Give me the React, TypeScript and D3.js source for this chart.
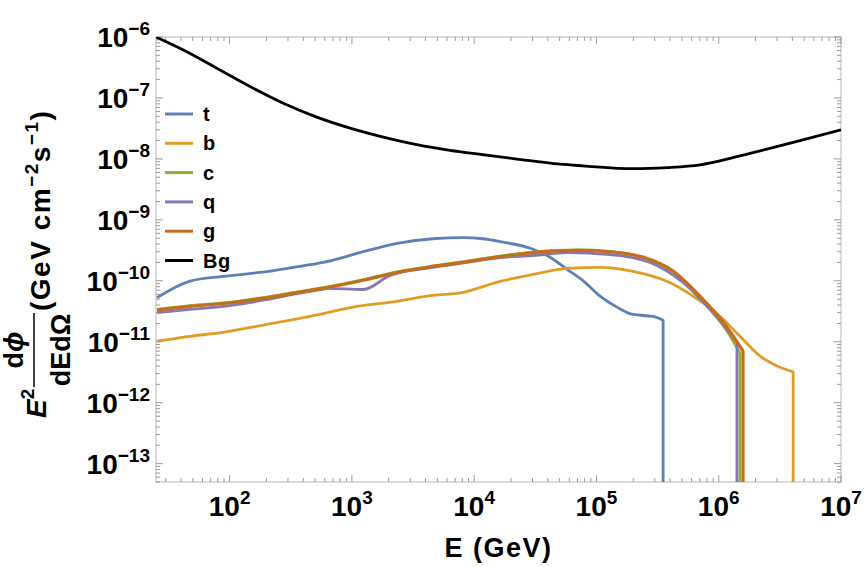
import React from "react";
import * as d3 from "d3";

const W = 865;
const H = 567;
const FONT = "'Liberation Sans', Arial, sans-serif";

// energies (GeV) and E^2 dphi/dE dOmega
const tE = [25.5, 47.5, 88.5, 177, 330, 580, 1240, 2340, 4610, 8110, 11800, 16300, 30300, 43000, 57500, 78000, 107000, 147000, 199000, 290000, 351000];
const tFlux = [5.3e-11, 9.9e-11, 1.18e-10, 1.37e-10, 1.66e-10, 2.0e-10, 3.0e-10, 4.1e-10, 4.9e-10, 5.1e-10, 4.9e-10, 4.4e-10, 3.3e-10, 2.35e-10, 1.54e-10, 1.0e-10, 5.6e-11, 3.7e-11, 2.8e-11, 2.6e-11, 2.25e-11];

const bE = [25.5, 47.5, 88.5, 203, 455, 1100, 2340, 4120, 8110, 16300, 30300, 57500, 107000, 199000, 378000, 617000, 1030000, 1490000, 2180000, 3000000, 4060000];
const bFlux = [1.02e-11, 1.23e-11, 1.43e-11, 1.93e-11, 2.6e-11, 3.8e-11, 4.6e-11, 5.6e-11, 6.45e-11, 9.8e-11, 1.27e-10, 1.6e-10, 1.66e-10, 1.43e-10, 9.8e-11, 5.6e-11, 2.6e-11, 1.23e-11, 5.8e-12, 4.0e-12, 3.2e-12];

const cE = [25.5, 47.5, 107, 188, 330, 580, 1240, 2340, 4610, 8750, 16300, 30300, 69300, 129000, 240000, 423000, 703000, 1170000, 1490000];
const cFlux = [3.4e-11, 3.9e-11, 4.5e-11, 5.3e-11, 6.4e-11, 7.7e-11, 1.05e-10, 1.4e-10, 1.75e-10, 2.1e-10, 2.55e-10, 2.95e-10, 3.2e-10, 3.05e-10, 2.4e-10, 1.38e-10, 5.1e-11, 1.5e-11, 6.5e-12];

const qE = [25.5, 47.5, 107, 188, 330, 580, 627, 1240, 2050, 4610, 8750, 16300, 30300, 57500, 129000, 274000, 510000, 898000, 1410000];
const qFlux = [3.0e-11, 3.4e-11, 4.0e-11, 4.8e-11, 6.0e-11, 7.3e-11, 7.5e-11, 7.2e-11, 1.22e-10, 1.66e-10, 2.0e-10, 2.4e-10, 2.6e-10, 2.9e-10, 2.7e-10, 2.0e-10, 9.4e-11, 3.0e-11, 9.8e-12];

const gE = [25.5, 47.5, 107, 188, 330, 580, 1240, 2340, 4610, 8750, 16300, 30300, 69300, 129000, 240000, 423000, 703000, 1170000, 1580000];
const gFlux = [3.3e-11, 3.8e-11, 4.4e-11, 5.15e-11, 6.2e-11, 7.5e-11, 1.02e-10, 1.37e-10, 1.72e-10, 2.07e-10, 2.5e-10, 2.9e-10, 3.15e-10, 3.0e-10, 2.45e-10, 1.45e-10, 5.6e-11, 1.73e-11, 7.0e-12];

const bgE = [25, 41.9, 78.6, 147, 275, 516, 967, 1810, 3400, 6350, 11900, 22300, 50400, 77600, 199000, 378000, 703000, 1310000, 2480000, 4620000, 1e7];
const bgFlux = [1.0e-6, 6.1e-7, 3.07e-7, 1.54e-7, 8.2e-8, 4.85e-8, 3.2e-8, 2.28e-8, 1.71e-8, 1.38e-8, 1.17e-8, 9.95e-9, 8.2e-9, 7.7e-9, 6.9e-9, 7.2e-9, 8.0e-9, 1.05e-8, 1.45e-8, 2.0e-8, 3.0e-8];

const names = ["t", "b", "c", "q", "g", "Bg"];
const colors = ["#5E81B5", "#E19C24", "#8FB032", "#8778B3", "#C56E1A", "#000000"];

const xTickExps = [2, 3, 4, 5, 6, 7];
const yTickExps = [-6, -7, -8, -9, -10, -11, -12, -13];

const x = d3.scaleLog().domain([25, 1e7]).range([156, 841]);
const y = d3.scaleLog().domain([5e-14, 1e-6]).range([482, 37]);

const series = [
  { E: tE, F: tFlux, cut: true },
  { E: bE, F: bFlux, cut: true },
  { E: cE, F: cFlux, cut: true },
  { E: qE, F: qFlux, cut: true },
  { E: gE, F: gFlux, cut: true },
  { E: bgE, F: bgFlux, cut: false },
];

const line = d3
  .line<[number, number]>()
  .x((d) => x(d[0]))
  .y((d) => y(d[1]))
  .curve(d3.curveMonotoneX);

const sup = (e: number) => (e < 0 ? "\u2212" + Math.abs(e) : String(e));

export default function App() {
  const [x0, x1] = x.range();
  const [y0, y1] = y.range();

  // minor ticks (2..9 x 10^k)
  const xMinor: number[] = [];
  for (let k = 1; k <= 6; k++)
    for (let m = 2; m <= 9; m++) {
      const v = m * 10 ** k;
      if (v >= 25 && v <= 1e7) xMinor.push(v);
    }
  const yMinor: number[] = [];
  for (let k = -14; k <= -7; k++)
    for (let m = 2; m <= 9; m++) {
      const v = m * 10 ** k;
      if (v >= 5e-14 && v <= 1e-6) yMinor.push(v);
    }

  const tickCol = "#9a9a9a";

  return (
    <svg width={W} height={H} style={{ position: "absolute", left: 0, top: 0, background: "#fff" }} fontFamily={FONT}>
      <defs>
        <clipPath id="plot">
          <rect x={x0} y={y1} width={x1 - x0} height={y0 - y1} />
        </clipPath>
      </defs>

      {/* frame */}
      <rect x={x0} y={y1} width={x1 - x0} height={y0 - y1} fill="none" stroke="#b8b8b8" strokeWidth={1} />

      {/* x ticks */}
      {xTickExps.map((e) => (
        <g key={"xM" + e} stroke={tickCol}>
          <line x1={x(10 ** e)} x2={x(10 ** e)} y1={y0} y2={y0 - 7} />
          <line x1={x(10 ** e)} x2={x(10 ** e)} y1={y1} y2={y1 + 7} />
        </g>
      ))}
      {xMinor.map((v, i) => (
        <g key={"xm" + i} stroke={tickCol}>
          <line x1={x(v)} x2={x(v)} y1={y0} y2={y0 - 4} />
          <line x1={x(v)} x2={x(v)} y1={y1} y2={y1 + 4} />
        </g>
      ))}
      {/* y ticks */}
      {yTickExps.map((e) => (
        <g key={"yM" + e} stroke={tickCol}>
          <line x1={x0} x2={x0 + 7} y1={y(10 ** e)} y2={y(10 ** e)} />
          <line x1={x1} x2={x1 - 7} y1={y(10 ** e)} y2={y(10 ** e)} />
        </g>
      ))}
      {yMinor.map((v, i) => (
        <g key={"ym" + i} stroke={tickCol}>
          <line x1={x0} x2={x0 + 4} y1={y(v)} y2={y(v)} />
          <line x1={x1} x2={x1 - 4} y1={y(v)} y2={y(v)} />
        </g>
      ))}

      {/* tick labels */}
      {xTickExps.map((e) => (
        <text key={"xl" + e} x={x(10 ** e)} y={516} textAnchor="middle" fontSize={28} fontWeight="bold">
          <tspan>10</tspan>
          <tspan dy={-12} fontSize={19}>{sup(e)}</tspan>
        </text>
      ))}
      {yTickExps.map((e) => (
        <text key={"yl" + e} x={150} y={y(10 ** e) + 10} textAnchor="end" fontSize={28} fontWeight="bold">
          <tspan>10</tspan>
          <tspan dy={-12} fontSize={19}>{sup(e)}</tspan>
        </text>
      ))}

      {/* curves */}
      <g clipPath="url(#plot)" fill="none" strokeLinejoin="round">
        {series.map((s, i) => {
          const pts = s.E.map((e, j) => [e, s.F[j]] as [number, number]);
          let d = line(pts) || "";
          if (s.cut) d += `L${x(s.E[s.E.length - 1])},${y0 + 10}`;
          return <path key={names[i]} d={d} stroke={colors[i]} strokeWidth={i === 4 ? 3.2 : 2.8} />;
        })}
      </g>

      {/* legend */}
      {names.map((n, i) => (
        <g key={"lg" + n} transform={`translate(165,${114 + i * 29.3})`}>
          <line x1={0} x2={28} y1={0} y2={0} stroke={colors[i]} strokeWidth={3} />
          <text x={38} y={7} fontSize={20} fontWeight="bold" letterSpacing={0.5}>{n}</text>
        </g>
      ))}

      {/* x title */}
      <text x={(x0 + x1) / 2} y={557} textAnchor="middle" fontSize={27} fontWeight="bold" letterSpacing={1.5}>E (GeV)</text>

      {/* y title */}
      <g transform="rotate(-90)" fontWeight="bold">
        <text x={-418} y={46} fontSize={28}>
          <tspan fontStyle="italic">E</tspan>
          <tspan dy={-12} fontSize={19}>2</tspan>
        </text>
        <text x={-350} y={23} textAnchor="middle" fontSize={27}>
          d<tspan fontStyle="italic">{"\u03D5"}</tspan>
        </text>
        <line x1={-387} x2={-313} y1={34} y2={34} stroke="#000" strokeWidth={1.5} />
        <text x={-350} y={70} textAnchor="middle" fontSize={27}>dEd{"\u03A9"}</text>
        <text x={-311} y={50} fontSize={28} letterSpacing={1.5}>
          (GeV cm<tspan dy={-12} fontSize={19}>{"\u22122"}</tspan>
          <tspan dy={12}>s</tspan>
          <tspan dy={-12} fontSize={19}>{"\u22121"}</tspan>
          <tspan dy={12}>)</tspan>
        </text>
      </g>
    </svg>
  );
}
